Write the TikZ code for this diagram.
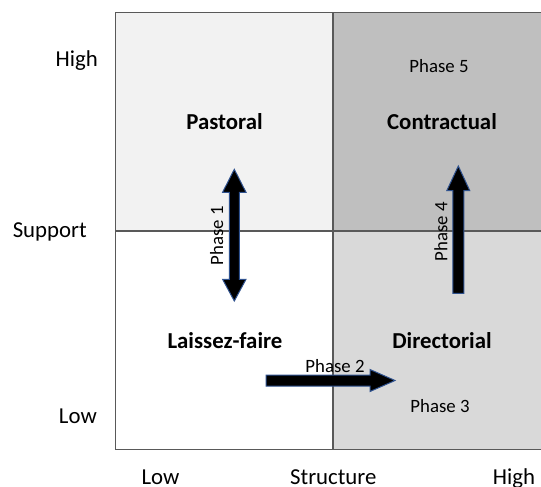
\documentclass[tikz,border=0pt]{standalone}
\usepackage{fontspec}
\setmainfont{Carlito}
\definecolor{qlight}{HTML}{F2F2F2}
\definecolor{qdark}{HTML}{BFBFBF}
\definecolor{qmid}{HTML}{D9D9D9}
\definecolor{gridc}{HTML}{595959}
\definecolor{arrowline}{HTML}{2F528F}
\begin{document}
\begin{tikzpicture}[x=1pt,y=-1pt,
  quadlabel/.style={font=\fontsize{22.8}{26}\selectfont\bfseries, inner sep=0pt},
  axislabel/.style={font=\fontsize{22.8}{26}\selectfont, inner sep=0pt},
  phaselabel/.style={font=\fontsize{18.8}{22}\selectfont, inner sep=0pt},
  gridline/.style={draw=gridc, line width=1.2pt},
  blockarrow/.style={fill=black, draw=arrowline, line width=1pt, line join=miter}]
\useasboundingbox (0,0) rectangle (541,487);
% quadrants
\fill[qlight] (115.5,12.5) rectangle (333,231);
\fill[qdark] (333,12.5) rectangle (541,231);
\fill[white] (115.5,231) rectangle (333,449.5);
\fill[qmid] (333,231) rectangle (541,449.5);
\draw[gridline] (541,12.5) -- (115.5,12.5) -- (115.5,449.5) -- (541,449.5);
\draw[gridline] (333,12.5) -- (333,449.5);
\draw[gridline] (115.5,231) -- (541,231);
% quadrant labels
\node[quadlabel] (past) at (224.5,122) {Pastoral};
\node[quadlabel] (cont) at (442,122) {Contractual};
\node[quadlabel] (lais) at (225,341) {Laissez-faire};
\node[quadlabel] (dire) at (442,341) {Directorial};
% phase labels
\node[phaselabel] (p5) at (439,66) {Phase 5};
\node[phaselabel] (p3) at (440,406) {Phase 3};
\node[phaselabel] (p2) at (335,366) {Phase 2};
\node[phaselabel, rotate=90] (p1) at (216.7,236) {Phase 1};
\node[phaselabel, rotate=90] (p4) at (441,232) {Phase 4};
% axis labels
\node[axislabel, anchor=east] (yhigh) at (98,61) {High};
\node[axislabel, anchor=east] (ysup) at (87,232) {Support};
\node[axislabel, anchor=east] (ylow) at (97,416) {Low};
\node[axislabel, anchor=base] (xlow) at (160.5,484.5) {Low};
\node[axislabel, anchor=base] (xstr) at (333.3,484.5) {Structure};
\node[axislabel, anchor=base] (xhigh) at (514,484.5) {High};
% block arrows
\draw[blockarrow] (266,375) -- (370,375) -- (370,369.5) -- (395,380.5) -- (370,391.5) -- (370,386) -- (266,386) -- cycle;
\draw[blockarrow] (234.3,169.3) -- (246,192.3) -- (239.3,192.3) -- (239.3,279.3) -- (246,279.3) -- (234.3,301) -- (222.6,279.3) -- (229.3,279.3) -- (229.3,192.3) -- (222.6,192.3) -- cycle;
\draw[blockarrow] (458.3,166) -- (469.8,190.7) -- (463.8,190.7) -- (463.8,293.3) -- (452.8,293.3) -- (452.8,190.7) -- (446.8,190.7) -- cycle;
\end{tikzpicture}
\end{document}
